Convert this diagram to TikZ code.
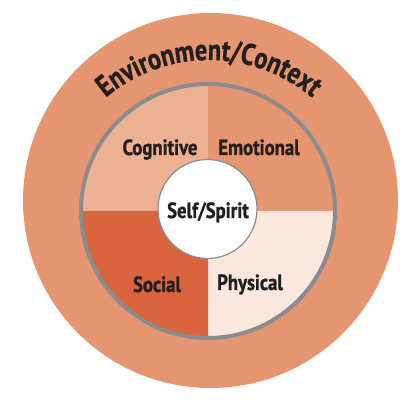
\documentclass[tikz,border=0pt]{standalone}
\usepackage{fontspec}
\setmainfont{PT Sans}
\newfontfamily\lblfont{PT Sans}[FakeStretch=0.85,FakeBold=1]
\newfontfamily\arcfont{PT Sans}[FakeStretch=0.81,FakeBold=1]
\usetikzlibrary{decorations.text}
\definecolor{outerc}{HTML}{E59570}
\definecolor{cogc}{HTML}{EBB192}
\definecolor{emoc}{HTML}{E59570}
\definecolor{socc}{HTML}{DA643D}
\definecolor{phyc}{HTML}{FAE7DD}
\definecolor{ringc}{HTML}{8A8B8D}
\definecolor{txtc}{HTML}{231F20}
\begin{document}
\begin{tikzpicture}[x=1pt,y=1pt,
  lbl/.style={font=\lblfont\bfseries\fontsize{22}{22}\selectfont, text=txtc, inner sep=0pt, anchor=base}]
\useasboundingbox (0,0) rectangle (417,401);
\fill[outerc] (210.5,200.5) circle (187.5);
\coordinate (c) at (208,190);
\fill[cogc] (c) -- ++(180:127) arc[start angle=180,end angle=90,radius=127] -- cycle;
\fill[emoc] (c) -- ++(90:127) arc[start angle=90,end angle=0,radius=127] -- cycle;
\fill[phyc] (c) -- ++(0:127) arc[start angle=0,end angle=-90,radius=127] -- cycle;
\fill[socc] (c) -- ++(-90:127) arc[start angle=-90,end angle=-180,radius=127] -- cycle;
\draw[ringc, line width=4pt] (c) circle (127);
\node[circle, draw=ringc, line width=1.2pt, fill=white, minimum size=99pt, inner sep=0pt] (self) at (207.5,192) {};
\node[lbl] (selflbl) at (208,183) {Self/Spirit};
\node[lbl] (cog) at (160,246) {Cognitive};
\node[lbl] (emo) at (259,246) {Emotional};
\node[lbl] (soc) at (157,109) {Social};
\node[lbl] (phy) at (250,111) {Physical};
\path[decorate, decoration={text along path, text align=center,
  text={|\arcfont\bfseries\fontsize{30}{30}\selectfont\color{txtc}|Environment/Context}}]
  (209,181) ++(150:160) arc[start angle=150,end angle=30,radius=160];
\end{tikzpicture}
\end{document}
